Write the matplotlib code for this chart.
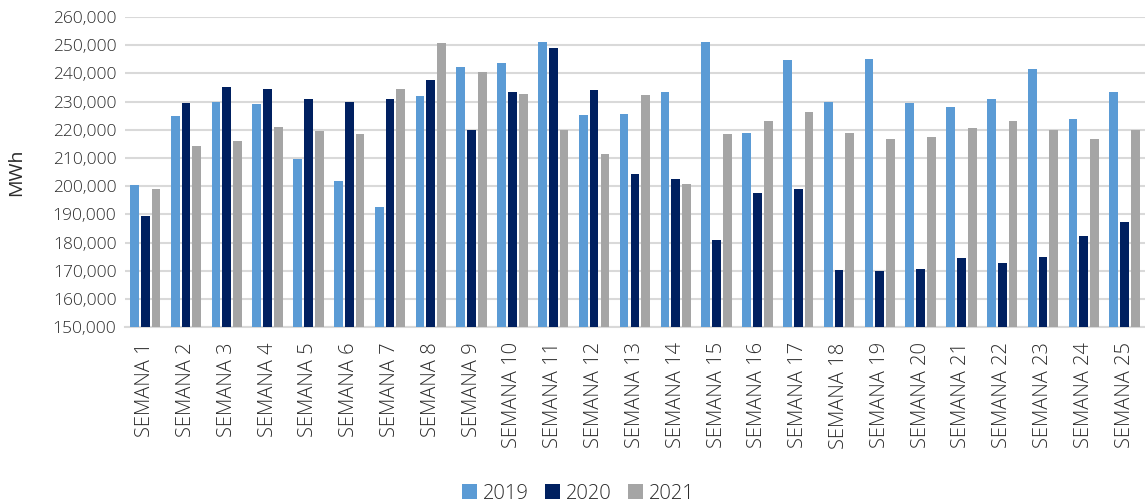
import numpy as np
import matplotlib.pyplot as plt
from matplotlib.ticker import FuncFormatter

# semanas y consumo (MWh) por año
semanas = ["SEMANA %d" % i for i in range(1, 26)]
valores_2019 = [200600, 224900, 230000, 229000, 209700, 202000, 192500, 232100, 242300, 243600,
                251200, 225100, 225500, 233600, 251300, 219000, 244700, 230000, 245100, 229500,
                228200, 230800, 241500, 223700, 233500]
valores_2020 = [189300, 229600, 235300, 234400, 230800, 229900, 230900, 237700, 220100, 233300,
                249100, 234100, 204300, 202500, 181000, 197500, 198900, 170100, 169800, 170700,
                174500, 172600, 175000, 182500, 187200]
valores_2021 = [198900, 214100, 216000, 221000, 219500, 218500, 234600, 250700, 240600, 232800,
                220100, 211400, 232300, 200800, 218600, 223100, 226300, 218800, 216800, 217500,
                220600, 223000, 219900, 216600, 219900]
anios = ["2019", "2020", "2021"]
colores = ["#5B9BD5", "#002060", "#A5A5A5"]

plt.rcParams['font.family'] = ['Open Sans', 'DejaVu Sans']
plt.rcParams['font.weight'] = 'light'
color_texto = "#2B2B2B"

fig = plt.figure(figsize=(11.45, 5.04), dpi=100)
ax = fig.add_axes([0.109, 0.351, 0.891, 0.615])

x = np.arange(len(semanas))
paso = 0.265
ancho = 0.215
for k, (serie, col, anio) in enumerate(zip([valores_2019, valores_2020, valores_2021], colores, anios)):
    ax.bar(x + (k - 1) * paso, serie, width=ancho, color=col, label=anio, zorder=3)

ax.set_ylim(150000, 260000)
ax.set_yticks(np.arange(150000, 260001, 10000))
ax.yaxis.set_major_formatter(FuncFormatter(lambda v, p: "{:,.0f}".format(v)))
ax.set_xlim(-0.5, len(semanas) - 0.5)
ax.set_xticks(x)
ax.set_xticklabels(semanas, rotation=90)

# rejilla y ejes estilo excel
ax.grid(axis='y', color="#D9D9D9", linewidth=1.5, zorder=0)
for lado in ['top', 'right', 'left']:
    ax.spines[lado].set_visible(False)
ax.spines['bottom'].set_color("#D9D9D9")
ax.spines['bottom'].set_linewidth(1.5)
ax.tick_params(axis='both', length=0, colors=color_texto)
ax.tick_params(axis='x', pad=11, labelsize=14.5)
ax.tick_params(axis='y', pad=6, labelsize=12.5)

ax.set_ylabel("MWh", fontsize=14, color=color_texto)
ax.yaxis.set_label_coords(-0.098, 0.5)

fig.legend(loc='lower center', bbox_to_anchor=(0.505, -0.035), ncol=3, frameon=False,
           fontsize=14.5, handlelength=0.75, handleheight=0.75, handletextpad=0.3,
           columnspacing=0.8, labelcolor=color_texto)

fig.savefig("out.png", dpi=100)
